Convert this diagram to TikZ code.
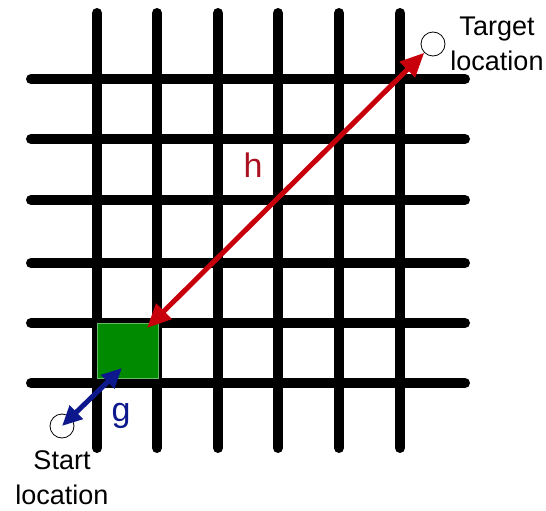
\documentclass[tikz,border=0pt]{standalone}
\usepackage{fontspec}
\setmainfont{Liberation Sans}
\usetikzlibrary{arrows.meta}
\definecolor{cellgreen}{RGB}{0,138,0}
\definecolor{hred}{RGB}{200,0,12}
\definecolor{hlabel}{RGB}{170,16,32}
\definecolor{gblue}{RGB}{12,24,140}
\begin{document}
\begin{tikzpicture}[x=1pt,y=-1pt,
  gridline/.style={line width=10pt,line cap=round},
  loc/.style={circle,draw,line width=0.8pt,minimum size=24pt,inner sep=0pt},
  lbl/.style={font=\fontsize{27}{35}\selectfont,align=center},
  big/.style={font=\fontsize{34}{40}\selectfont},
  harrow/.style={line width=5pt,hred,{Triangle[length=24pt,width=21pt]}-{Triangle[length=24pt,width=21pt]}},
  garrow/.style={line width=5pt,gblue,{Triangle[length=20pt,width=18pt]}-{Triangle[length=20pt,width=18pt]}}]
\useasboundingbox (0,0) rectangle (546,511);
\foreach \x in {97,157,218,278,339,400} \draw[gridline] (\x,13) -- (\x,448);
\foreach \y in {79,139,200,263,323,383} \draw[gridline] (31,\y) -- (465,\y);
\node[fill=cellgreen,draw=cellgreen!60,line width=0.5pt,minimum width=61pt,minimum height=55pt,inner sep=0pt,anchor=north west] (cell) at (97,323) {};
\node[loc] (target) at (433,44) {};
\node[loc] (start) at (62,426) {};
\coordinate (hend) at (147,328);
\coordinate (gend) at (122,368);
\draw[harrow] (hend) -- (target.south west);
\draw[garrow] (start.center) -- (gend);
\node[big,text=hlabel] (h) at (253,165) {h};
\node[big,text=gblue] (g) at (121,416) {g};
\node[lbl] (tlab) at (497,44) {Target\\location};
\node[lbl] (slab) at (62,478) {Start\\location};
\end{tikzpicture}
\end{document}
